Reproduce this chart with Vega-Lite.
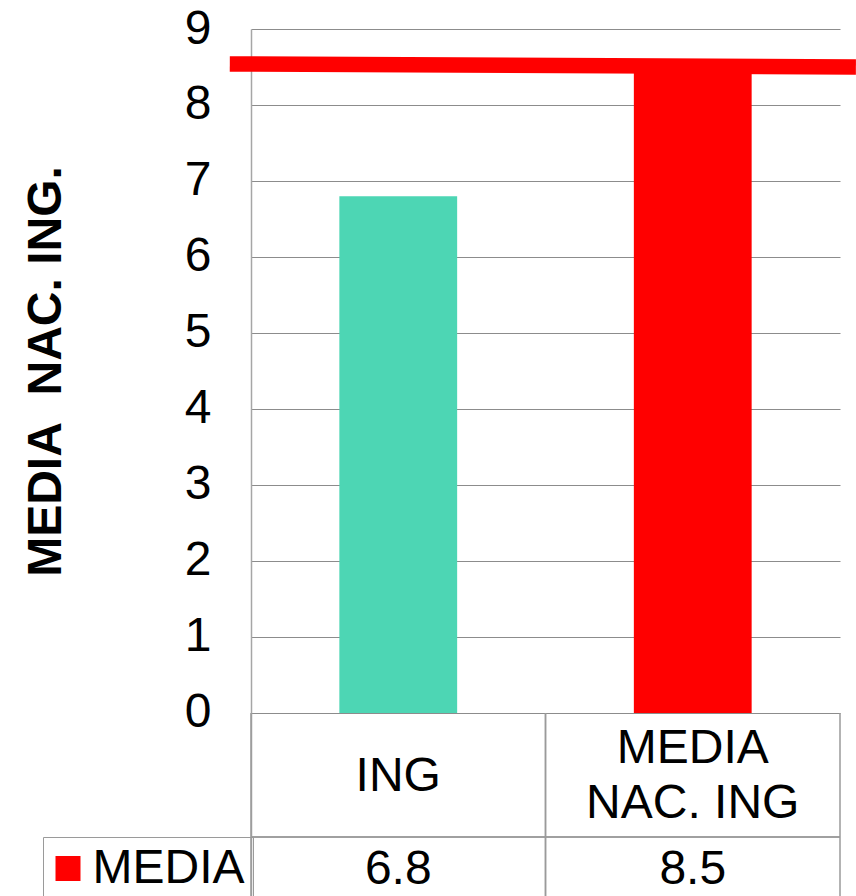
{
  "$schema": "https://vega.github.io/schema/vega-lite/v6.json",
  "width": 589,
  "height": 867,
  "autosize": {"type": "none"},
  "padding": {"left": 251, "top": 29, "right": 16, "bottom": 0},
  "background": "white",
  "config": {"font": "Liberation Sans", "view": {"stroke": null}},
  "datasets": {
    "bars": [
      {"cat": "ING", "label": "ING", "value": 6.8},
      {"cat": "MEDIA NAC. ING", "label": "MEDIA\nNAC. ING", "value": 8.5}
    ],
    "ref": [
      {"t": -0.036, "v": 8.54, "serie": "MEDIA"},
      {"t": 1.027, "v": 8.5, "serie": "MEDIA"}
    ]
  },
  "layer": [
    {
      "data": {"name": "bars"},
      "layer": [
        {
          "mark": {"type": "bar", "width": {"band": 0.4}},
          "encoding": {
            "x": {"field": "cat", "type": "nominal", "sort": null, "scale": {"paddingInner": 0, "paddingOuter": 0}, "axis": null},
            "y": {
              "field": "value",
              "type": "quantitative",
              "scale": {"domain": [-2.408, 9], "nice": false, "zero": false},
              "axis": {
                "values": [0, 1, 2, 3, 4, 5, 6, 7, 8, 9],
                "format": "d",
                "grid": true,
                "gridColor": "#8c8c8c",
                "gridWidth": 1,
                "domain": true,
                "domainColor": "#a6a6a6",
                "domainWidth": 1.5,
                "ticks": false,
                "tickSize": 0,
                "labelFontSize": 48,
                "labelColor": "black",
                "labelPadding": 40,
                "labelFont": "Liberation Sans",
                "title": "MEDIA\u00a0 NAC. ING.",
                "titleFont": "Liberation Sans",
                "titleFontSize": 48,
                "titleFontWeight": "bold",
                "titleColor": "black",
                "titleX": -191,
                "titleY": 342,
                "titleAngle": -90,
                "titleAlign": "center",
                "titleBaseline": "alphabetic"
              }
            },
            "y2": {"datum": 0},
            "color": {
              "field": "cat",
              "type": "nominal",
              "scale": {"domain": ["ING", "MEDIA NAC. ING"], "range": ["#4dd6b4", "#ff0000"]},
              "legend": null
            }
          }
        },
        {
          "mark": {"type": "rule", "color": "#9a9a9a", "strokeWidth": 1.5},
          "encoding": {"y": {"datum": -1.632}}
        },
        {
          "mark": {"type": "rule", "color": "#9a9a9a", "strokeWidth": 1.5},
          "encoding": {
            "x": {"field": "cat", "type": "nominal", "sort": null, "bandPosition": 0, "scale": {"paddingInner": 0, "paddingOuter": 0}, "axis": null},
            "y": {"datum": 0},
            "y2": {"datum": -2.408}
          }
        },
        {
          "mark": {"type": "rule", "color": "#9a9a9a", "strokeWidth": 1.5},
          "encoding": {
            "x": {"field": "cat", "type": "nominal", "sort": null, "bandPosition": 1, "scale": {"paddingInner": 0, "paddingOuter": 0}, "axis": null},
            "y": {"datum": 0},
            "y2": {"datum": -2.408}
          }
        },
        {
          "transform": [{"filter": "datum.cat === 'ING'"}],
          "mark": {"type": "text", "fontSize": 48, "lineBreak": "\n", "lineHeight": 55, "baseline": "middle", "align": "center", "color": "black", "font": "Liberation Sans"},
          "encoding": {
            "x": {"field": "cat", "type": "nominal", "sort": null, "scale": {"paddingInner": 0, "paddingOuter": 0}, "axis": null},
            "y": {"datum": -0.842},
            "text": {"field": "label"}
          }
        },
        {
          "transform": [{"filter": "datum.cat !== 'ING'"}],
          "mark": {"type": "text", "fontSize": 48, "lineBreak": "\n", "lineHeight": 55, "baseline": "middle", "align": "center", "color": "black", "font": "Liberation Sans"},
          "encoding": {
            "x": {"field": "cat", "type": "nominal", "sort": null, "scale": {"paddingInner": 0, "paddingOuter": 0}, "axis": null},
            "y": {"datum": -0.474},
            "text": {"field": "label"}
          }
        },
        {
          "mark": {"type": "text", "fontSize": 48, "baseline": "middle", "align": "center", "color": "black", "font": "Liberation Sans"},
          "encoding": {
            "x": {"field": "cat", "type": "nominal", "sort": null, "scale": {"paddingInner": 0, "paddingOuter": 0}, "axis": null},
            "y": {"datum": -2.071},
            "text": {"field": "value", "type": "quantitative", "format": ".1f"}
          }
        }
      ]
    },
    {
      "data": {"name": "ref"},
      "mark": {"type": "line", "strokeWidth": 15.5, "clip": false, "strokeCap": "butt"},
      "encoding": {
        "x": {"field": "t", "type": "quantitative", "scale": {"domain": [0, 1], "nice": false, "zero": false}, "axis": null},
        "y": {"field": "v", "type": "quantitative"},
        "color": {
          "field": "serie",
          "type": "nominal",
          "scale": {"domain": ["MEDIA"], "range": ["#ff0000"]},
          "legend": {
            "orient": "none",
            "legendX": -208,
            "legendY": 808,
            "title": null,
            "symbolType": "square",
            "symbolSize": 625,
            "symbolFillColor": "#ff0000",
            "symbolStrokeWidth": 0,
            "labelFontSize": 48,
            "labelFont": "Liberation Sans",
            "labelColor": "black",
            "labelLimit": 400,
            "padding": 7.5,
            "symbolOffset": -6.5,
            "labelOffset": 0.5,
            "strokeColor": "#9a9a9a",
            "encode": {
              "symbols": {"update": {"fill": {"value": "#ff0000"}, "stroke": {"value": "#ff0000"}, "strokeWidth": {"value": 0}}}
            }
          }
        }
      }
    }
  ],
  "resolve": {"scale": {"x": "independent", "color": "independent"}}
}
